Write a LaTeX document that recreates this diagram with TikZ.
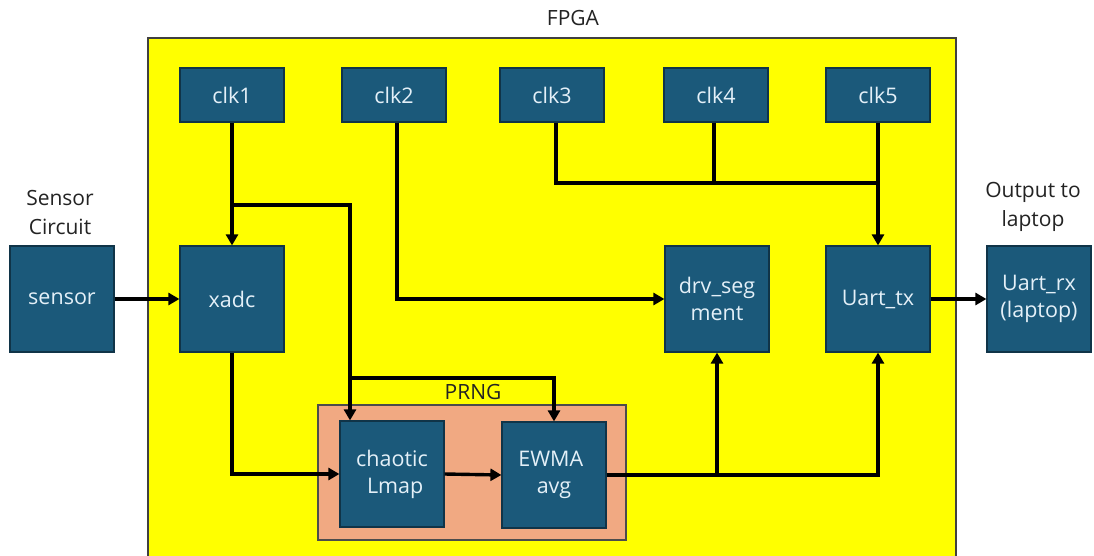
\documentclass[tikz,border=0pt]{standalone}
\usepackage{fontspec}
\setmainfont{Open Sans}
\usetikzlibrary{arrows.meta}
\definecolor{boxblue}{RGB}{27,89,122}
\definecolor{boxedge}{RGB}{16,52,72}
\definecolor{boxtext}{RGB}{228,240,248}
\definecolor{fpgayellow}{RGB}{255,255,0}
\definecolor{salmon}{RGB}{241,169,130}
\definecolor{lbltext}{RGB}{35,35,35}
\begin{document}
\begin{tikzpicture}[x=1pt,y=-1pt,
  blk/.style={draw=boxedge, fill=boxblue, line width=1.2pt, text=boxtext,
    minimum width=104pt, minimum height=106pt, inner sep=0pt, align=center,
    font=\fontsize{21.5}{27}\selectfont},
  clkbox/.style={blk, minimum height=54pt},
  conn/.style={line width=3.4pt, draw=black, line join=miter},
  arr/.style={conn, -{Triangle[length=11pt,width=12pt]}},
  lbl/.style={font=\fontsize{21}{29}\selectfont, text=lbltext, align=center, inner sep=0pt}]
\useasboundingbox (0,0) rectangle (1094,555);
\fill[white] (0,0) rectangle (1094,555);
% FPGA area
\path[draw=black!75, line width=1.2pt, fill=fpgayellow] (148,38) rectangle (956,570);
\node[lbl] (fpgalbl) at (573,18) {FPGA};
% PRNG area
\path[draw=black!70, line width=1.2pt, fill=salmon] (318,405) rectangle (626,540);
\node[lbl] (prnglbl) at (473,392) {PRNG};
% labels outside
\node[lbl] (senslbl) at (60,212) {Sensor\\Circuit};
\node[lbl] (outlbl) at (1033,207) {Output to\\laptop};
% clocks
\node[clkbox] (clk1) at (232,95) {clk1};
\node[clkbox] (clk2) at (394,95) {clk2};
\node[clkbox] (clk3) at (552,95) {clk3};
\node[clkbox] (clk4) at (716,95) {clk4};
\node[clkbox] (clk5) at (878,95) {clk5};
% blocks
\node[blk] (sensor) at (62,299) {sensor};
\node[blk] (xadc) at (232,299) {xadc};
\node[blk] (drv) at (717,299) {drv\_seg\\ment};
\node[blk] (uarttx) at (878,299) {Uart\_tx};
\node[blk] (uartrx) at (1039,299) {Uart\_rx\\(laptop)};
\node[blk] (chaotic) at (392,474) {chaotic\\\hspace*{0.3em}Lmap};
\node[blk] (ewma) at (554,475) {EWMA\hspace*{0.3em}\\avg};
% connectors
\coordinate (b1) at (232,205);
\coordinate (b2) at (350,205);
\coordinate (b3) at (350,378);
\coordinate (b4) at (554,378);
\coordinate (j) at (878,183);
\draw[arr] (clk1.south) -- (xadc.north);
\draw[arr] (b1) -- (b2) -- (b2 |- chaotic.north);
\draw[arr] (b3) -- (b4) -- (ewma.north);
\draw[arr] ([xshift=3pt]clk2.south) |- (drv.west);
\draw[conn] ([xshift=4pt]clk3.south) |- (j);
\draw[conn] ([xshift=-2pt]clk4.south) -- ([xshift=-2pt]clk4.south |- j);
\draw[arr] (clk5.south) -- (uarttx.north);
\draw[arr] (sensor.east) -- (xadc.west);
\draw[arr] (xadc.south) |- (chaotic.west);
\draw[arr] (chaotic.east) -- (ewma.west);
\draw[arr] (ewma.east) -| (uarttx.south);
\draw[arr] (ewma.east -| drv.south) -- (drv.south);
\draw[arr] (uarttx.east) -- (uartrx.west);
\end{tikzpicture}
\end{document}
